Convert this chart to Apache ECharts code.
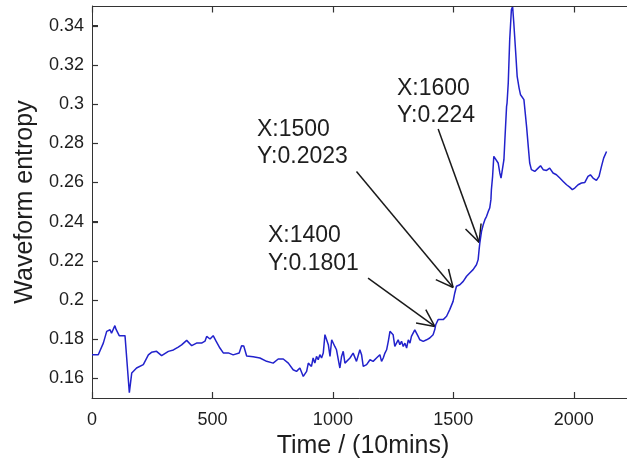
<!DOCTYPE html>
<html>
<head>
<meta charset="utf-8">
<script src="https://cdn.jsdelivr.net/npm/echarts@6/dist/echarts.min.js"></script>
<style>html,body{margin:0;padding:0;background:#fff}#c{width:627px;height:462px}</style>
</head>
<body>
<div id="c"></div>
<script>
// Time index (10-minute steps)
const timeX = [0,26,47,61,75,81,95,100,113,137,141,155,165,185,213,234,247,255,268,289,317,338,358,372,393,414,434,455,469,476,490,503,515,531,545,566,586,611,621,630,642,669,697,725,752,773,794,815,835,849,863,877,884,891,898,905,911,918,925,932,939,946,953,960,967,974,981,988,995,1001,1008,1015,1029,1036,1043,1050,1057,1071,1084,1098,1112,1119,1126,1140,1154,1167,1181,1188,1195,1202,1209,1216,1223,1230,1237,1243,1250,1257,1264,1271,1278,1285,1292,1299,1306,1313,1320,1326,1333,1340,1347,1354,1361,1375,1389,1402,1416,1423,1427,1437,1444,1458,1472,1485,1499,1506,1513,1527,1541,1555,1568,1582,1596,1603,1607,1610,1617,1624,1631,1638,1645,1651,1656,1658,1663,1668,1676,1686,1693,1698,1704,1710,1714,1721,1723,1728,1734,1741,1746,1751,1759,1765,1773,1779,1787,1793,1804,1811,1817,1824,1838,1852,1862,1873,1887,1900,1907,1914,1928,1942,1956,1970,1983,1994,2004,2018,2032,2046,2059,2069,2080,2094,2105,2115,2124,2136];
// Waveform entropy
const entropy = [0.1721,0.1721,0.178,0.184,0.1848,0.183,0.1869,0.185,0.1818,0.1818,0.181,0.1527,0.1628,0.1653,0.167,0.172,0.1733,0.1725,0.1738,0.1716,0.1738,0.1745,0.176,0.1771,0.1794,0.1767,0.178,0.178,0.179,0.1814,0.1801,0.1818,0.179,0.1755,0.173,0.173,0.172,0.173,0.1767,0.1765,0.1714,0.171,0.1704,0.1687,0.1678,0.1699,0.1699,0.1678,0.1644,0.1636,0.1653,0.161,0.1602,0.1636,0.1678,0.1687,0.1661,0.1704,0.1678,0.1712,0.1695,0.1721,0.1704,0.1729,0.1823,0.1831,0.1772,0.1712,0.1797,0.1806,0.1763,0.1746,0.1653,0.1712,0.1738,0.1678,0.167,0.1704,0.1729,0.1687,0.1746,0.1721,0.1661,0.167,0.1695,0.1687,0.1704,0.1695,0.1721,0.1687,0.1704,0.1729,0.1746,0.1789,0.184,0.1848,0.1823,0.1763,0.178,0.1797,0.1772,0.1789,0.1763,0.178,0.1755,0.1797,0.178,0.1814,0.1831,0.1848,0.1857,0.1814,0.1797,0.1789,0.1797,0.1806,0.1823,0.1849,0.1874,0.19,0.1908,0.19,0.1917,0.1951,0.1993,0.2036,0.207,0.2078,0.2095,0.2121,0.2138,0.2155,0.218,0.2206,0.2257,0.2291,0.235,0.2384,0.241,0.2427,0.2452,0.2469,0.2512,0.2563,0.2631,0.2733,0.2733,0.2699,0.2648,0.2622,0.2631,0.2716,0.2818,0.2988,0.3005,0.3107,0.3328,0.3481,0.3498,0.3413,0.326,0.3141,0.3081,0.3047,0.3047,0.3022,0.2886,0.2784,0.2699,0.2665,0.2656,0.2673,0.2685,0.2665,0.2661,0.2673,0.2673,0.2648,0.2639,0.2622,0.2605,0.2588,0.2576,0.2563,0.2571,0.2588,0.2597,0.26,0.2631,0.2639,0.2622,0.261,0.2631,0.2682,0.2724,0.2758];
// Axis ticks
const xTicks = [0,500,1000,1500,2000];
const yTicks = [0.16,0.18,0.2,0.22,0.24,0.26,0.28,0.3,0.32,0.34];
// Annotation arrows: [fromX, fromY, toX, toY]
const arrowFromX = [1146,1098,1437];
const arrowFromY = [0.2112,0.2656,0.2873];
const arrowToX = [1423,1499,1607];
const arrowToY = [0.1865,0.2064,0.2294];
const annotLine1 = ['X:1400','X:1500','X:1600'];
const annotLine2 = ['Y:0.1801','Y:0.2023','Y:0.224'];

const X_MIN = 0, X_MAX = 2250, Y_MIN = 0.15, Y_MAX = 0.35;
const FONT = '"Liberation Sans", Arial, Helvetica, sans-serif';
const TXT = '#1e1e1e';
const AX = '#333';
const TL = 6;

const lineData = timeX.map((x,i)=>[x, entropy[i]]);
const arrowData = arrowFromX.map((x,i)=>[x, arrowFromY[i], arrowToX[i], arrowToY[i]]);

const annotPos = [[268,237,265],[257,131,158],[397,90,117]];
const textGraphics = [];
annotPos.forEach((p,i)=>{
  textGraphics.push({type:'text', left:p[0], top:p[1]-13, style:{text:annotLine1[i], fontSize:23, fontFamily:FONT, fill:TXT}});
  textGraphics.push({type:'text', left:p[0], top:p[2]-13, style:{text:annotLine2[i], fontSize:23, fontFamily:FONT, fill:TXT}});
});

const hiddenSplit = {show:true, lineStyle:{color:'rgba(0,0,0,0)'}};
function aline(){ return {show:true, onZero:false, lineStyle:{color:AX, width:1}}; }

const chart = echarts.init(document.getElementById('c'));
chart.setOption({
  animation:false,
  grid:{left:92, top:6, width:542, height:392, outerBoundsMode:'none'},
  xAxis:[
    {type:'value', min:X_MIN, max:X_MAX, interval:500, position:'bottom',
      name:'Time / (10mins)', nameLocation:'middle', nameGap:34,
      nameTextStyle:{fontSize:25, fontFamily:FONT, color:TXT},
      axisLine:aline(), splitLine:hiddenSplit,
      axisTick:{show:true, inside:true, length:TL, lineStyle:{color:AX, width:1}},
      axisLabel:{formatter:(v)=> v > xTicks[xTicks.length-1] ? '' : String(v), fontSize:18, fontFamily:FONT, color:TXT, margin:13}}
  ],
  yAxis:[
    {type:'value', min:Y_MIN, max:Y_MAX, position:'left',
      name:'Waveform entropy', nameLocation:'middle', nameGap:54, nameRotate:90,
      nameTextStyle:{fontSize:25, fontFamily:FONT, color:TXT},
      axisLine:aline(), splitLine:hiddenSplit,
      axisTick:{show:true, inside:true, length:TL, customValues:yTicks, lineStyle:{color:AX, width:1}},
      axisLabel:{customValues:yTicks, formatter:(v)=>String(+(+v).toFixed(2)), fontSize:18, fontFamily:FONT, color:TXT, margin:8}}
  ],
  series:[
    {type:'line', data:lineData, showSymbol:false, symbol:'none', smooth:false,
      lineStyle:{color:'#2222cc', width:1.5}, itemStyle:{color:'#2222cc'}, clip:true},
    {type:'custom', data:arrowData, clip:false, silent:true,
      encode:{x:[0,2], y:[1,3]},
      renderItem:function(params, api){
        const p0 = api.coord([api.value(0), api.value(1)]);
        const p1 = api.coord([api.value(2), api.value(3)]);
        const dx = p1[0]-p0[0], dy = p1[1]-p0[1];
        const len = Math.sqrt(dx*dx+dy*dy);
        const ux = dx/len, uy = dy/len;
        const L = 19, th = 0.45;
        const c = Math.cos(th), s = Math.sin(th);
        const a1 = [p1[0] - L*(ux*c - uy*s), p1[1] - L*(ux*s + uy*c)];
        const a2 = [p1[0] - L*(ux*c + uy*s), p1[1] - L*(-ux*s + uy*c)];
        const st = {stroke:'#1a1a1a', lineWidth:1.5, fill:null};
        return {type:'group', children:[
          {type:'line', shape:{x1:p0[0], y1:p0[1], x2:p1[0], y2:p1[1]}, style:st},
          {type:'line', shape:{x1:a1[0], y1:a1[1], x2:p1[0], y2:p1[1]}, style:st},
          {type:'line', shape:{x1:a2[0], y1:a2[1], x2:p1[0], y2:p1[1]}, style:st}
        ]};
      }}
  ],
  graphic:textGraphics
});

// Frame: top border and inward ticks, positioned through the chart's own axis scales
const frame = [];
const lst = {stroke:AX, lineWidth:1.2};
const tl = chart.convertToPixel({gridIndex:0}, [X_MIN, Y_MAX]);
const tr = chart.convertToPixel({gridIndex:0}, [X_MAX, Y_MAX]);
const topY = Math.round(tl[1]) + 0.5;
frame.push({type:'line', z:50, shape:{x1:tl[0], y1:topY, x2:tr[0], y2:topY}, style:lst});
xTicks.forEach(v=>{
  const b = chart.convertToPixel({gridIndex:0}, [v, Y_MIN]);
  const t = chart.convertToPixel({gridIndex:0}, [v, Y_MAX]);
  const x = Math.round(b[0]) + 0.5;
  frame.push({type:'line', z:50, shape:{x1:x, y1:b[1], x2:x, y2:b[1]-TL}, style:lst});
  frame.push({type:'line', z:50, shape:{x1:x, y1:topY, x2:x, y2:topY+TL}, style:lst});
});
yTicks.forEach(v=>{
  const l = chart.convertToPixel({gridIndex:0}, [X_MIN, v]);
  const y = Math.round(l[1]) + 0.5;
  frame.push({type:'line', z:50, shape:{x1:l[0], y1:y, x2:l[0]+TL, y2:y}, style:lst});
});
chart.setOption({graphic: textGraphics.concat(frame)});
</script>
</body>
</html>
